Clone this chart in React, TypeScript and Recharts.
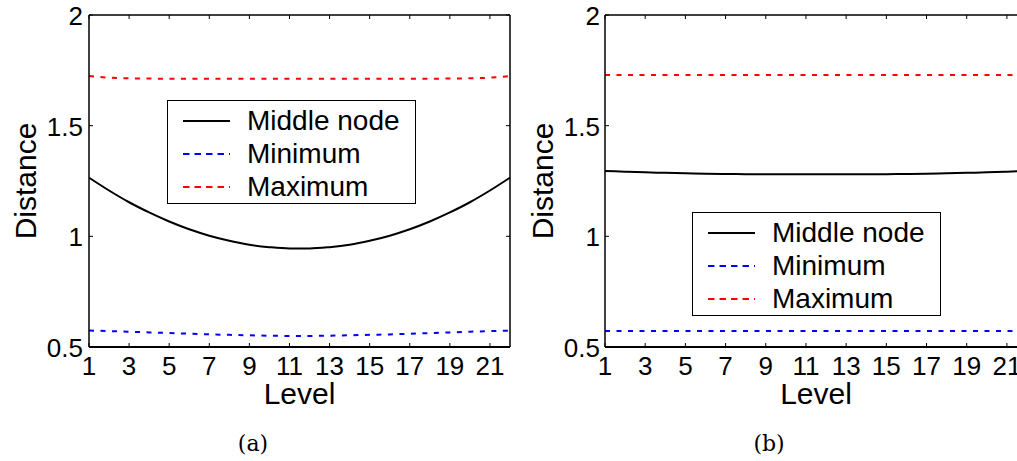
import React from 'react';
import { LineChart, Line, XAxis, YAxis, Legend } from 'recharts';

const levels = [1, 2, 3, 4, 5, 6, 7, 8, 9, 10, 11, 12, 13, 14, 15, 16, 17, 18, 19, 20, 21, 22];
const xTicks = [1, 3, 5, 7, 9, 11, 13, 15, 17, 19, 21];
const yTicks = [0.5, 1, 1.5, 2];

const middleA = [1.265, 1.207, 1.154, 1.108, 1.067, 1.032, 1.003, 0.98, 0.962, 0.951, 0.945, 0.945, 0.951, 0.962, 0.98, 1.003, 1.032, 1.067, 1.108, 1.154, 1.207, 1.265];
const minA = [0.574, 0.572, 0.569, 0.566, 0.563, 0.56, 0.557, 0.555, 0.553, 0.551, 0.55, 0.55, 0.551, 0.553, 0.555, 0.557, 0.56, 0.563, 0.566, 0.569, 0.572, 0.574];
const maxA = [1.724, 1.717, 1.714, 1.713, 1.712, 1.712, 1.712, 1.712, 1.712, 1.712, 1.712, 1.712, 1.712, 1.712, 1.712, 1.712, 1.712, 1.712, 1.713, 1.714, 1.717, 1.724];

const middleB = [1.295, 1.292, 1.289, 1.287, 1.285, 1.283, 1.282, 1.281, 1.28, 1.28, 1.28, 1.28, 1.28, 1.28, 1.281, 1.282, 1.283, 1.285, 1.287, 1.289, 1.292, 1.295];
const minB = [0.572, 0.572, 0.572, 0.572, 0.572, 0.572, 0.572, 0.572, 0.572, 0.572, 0.572, 0.572, 0.572, 0.572, 0.572, 0.572, 0.572, 0.572, 0.572, 0.572, 0.572, 0.572];
const maxB = [1.729, 1.729, 1.729, 1.729, 1.729, 1.729, 1.729, 1.729, 1.729, 1.729, 1.729, 1.729, 1.729, 1.729, 1.729, 1.729, 1.729, 1.729, 1.729, 1.729, 1.729, 1.729];

const seriesNames = ['Middle node', 'Minimum', 'Maximum'];
const seriesColors = ['#000000', '#0000ff', '#ff0000'];
const seriesDash = ['', '5 6.5', '5 6.5'];

const build = (mid: number[], mn: number[], mx: number[]) =>
  levels.map((l, i) => ({ level: l, middle: mid[i], min: mn[i], max: mx[i] }));

const dataA = build(middleA, minA, maxA);
const dataB = build(middleB, minB, maxB);

const FONT = 'Liberation Sans, Arial, Helvetica, sans-serif';
const TICK_FONT = 26;

const BottomTick = (props: any) => {
  const { x, y, payload } = props;
  return (
    <g>
      <line x1={x} x2={x} y1={y} y2={y - 4} stroke="#000" strokeWidth={1} />
      <text x={x} y={y + 28} textAnchor="middle" fontSize={TICK_FONT} fontFamily={FONT} fill="#000">
        {payload.value}
      </text>
    </g>
  );
};
const TopTick = (props: any) => {
  const { x, y } = props;
  return <line x1={x} x2={x} y1={y} y2={y + 4} stroke="#000" strokeWidth={1} />;
};
const makeLeftTick = (gap: number) => (props: any) => {
  const { x, y, payload } = props;
  return (
    <g>
      <line x1={x} x2={x + 4} y1={y} y2={y} stroke="#000" strokeWidth={1} />
      <text x={x - gap} y={y + 10} textAnchor="end" fontSize={TICK_FONT} fontFamily={FONT} fill="#000">
        {payload.value}
      </text>
    </g>
  );
};
const RightTick = (props: any) => {
  const { x, y } = props;
  return <line x1={x} x2={x - 4} y1={y} y2={y} stroke="#000" strokeWidth={1} />;
};

const LegendBox = ({ sampleLen, textGap }: { sampleLen: number; textGap: number }) => (
  <div
    style={{
      border: '1.5px solid #000',
      background: '#fff',
      boxSizing: 'border-box',
      width: '100%',
      height: '100%',
      paddingTop: 3,
      paddingLeft: 15,
    }}
  >
    {seriesNames.map((name, i) => (
      <div key={name} style={{ display: 'flex', alignItems: 'center', height: 33 }}>
        <svg width={sampleLen} height={6} style={{ display: 'block' }}>
          <line
            x1={0}
            x2={sampleLen}
            y1={3}
            y2={3}
            stroke={seriesColors[i]}
            strokeWidth={2}
            strokeDasharray={seriesDash[i] ? '6.5 5' : undefined}
          />
        </svg>
        <span
          style={{
            marginLeft: textGap,
            fontFamily: FONT,
            fontSize: 28,
            lineHeight: '33px',
            color: '#000',
            whiteSpace: 'nowrap',
          }}
        >
          {name}
        </span>
      </div>
    ))}
  </div>
);

type PanelProps = {
  data: any[];
  left: number;
  plotLeft: number;
  plotRight: number;
  tickGap: number;
  titleOffset: number;
  legendPos: { left: number; top: number };
};

const W = 520;
const H = 461;
const PLOT_TOP = 15;
const PLOT_BOTTOM = 347;

const Panel = ({ data, left, plotLeft, plotRight, tickGap, titleOffset, legendPos }: PanelProps) => (
  <div style={{ position: 'absolute', left, top: 0 }}>
    <LineChart
      width={W}
      height={H}
      data={data}
      margin={{ top: PLOT_TOP - 1, left: plotLeft - 1, right: W - plotRight - 1, bottom: H - PLOT_BOTTOM - 1 }}
    >
      <XAxis
        dataKey="level"
        type="number"
        domain={[1, 22]}
        ticks={xTicks}
        allowDataOverflow
        height={1}
        tickSize={0}
        tickMargin={0}
        tickLine={false}
        axisLine={{ stroke: '#000', strokeWidth: 2 }}
        tick={<BottomTick />}
        interval={0}
        label={{
          content: (p: any) => {
            const vb = p.viewBox;
            return (
              <text
                x={vb.x + vb.width / 2}
                y={PLOT_BOTTOM + 57}
                textAnchor="middle"
                fontSize={30}
                fontFamily={FONT}
                fill="#000"
              >
                Level
              </text>
            );
          },
        }}
      />
      <XAxis
        xAxisId="top"
        orientation="top"
        dataKey="level"
        type="number"
        domain={[1, 22]}
        ticks={xTicks}
        allowDataOverflow
        height={1}
        tickSize={0}
        tickMargin={0}
        tickLine={false}
        axisLine={{ stroke: '#000', strokeWidth: 1.5 }}
        tick={<TopTick />}
        interval={0}
      />
      <YAxis
        type="number"
        domain={[0.5, 2]}
        ticks={yTicks}
        allowDataOverflow
        width={1}
        tickSize={0}
        tickMargin={0}
        tickLine={false}
        axisLine={{ stroke: '#000', strokeWidth: 1.5 }}
        tick={makeLeftTick(tickGap)}
        interval={0}
        label={{
          content: (p: any) => {
            const vb = p.viewBox;
            const cx = plotLeft - titleOffset;
            const cy = vb.y + vb.height / 2;
            return (
              <text
                x={cx}
                y={cy}
                transform={`rotate(-90, ${cx}, ${cy})`}
                textAnchor="middle"
                fontSize={30}
                fontFamily={FONT}
                fill="#000"
              >
                Distance
              </text>
            );
          },
        }}
      />
      <YAxis
        yAxisId="right"
        orientation="right"
        type="number"
        domain={[0.5, 2]}
        ticks={yTicks}
        allowDataOverflow
        width={1}
        tickSize={0}
        tickMargin={0}
        tickLine={false}
        axisLine={{ stroke: '#000', strokeWidth: 1.5 }}
        tick={<RightTick />}
        interval={0}
      />
      <Line
        dataKey="max"
        name={seriesNames[2]}
        stroke={seriesColors[2]}
        strokeWidth={2}
        strokeDasharray={seriesDash[2]}
        dot={false}
        type="monotone"
        isAnimationActive={false}
      />
      <Line
        dataKey="min"
        name={seriesNames[1]}
        stroke={seriesColors[1]}
        strokeWidth={2}
        strokeDasharray={seriesDash[1]}
        dot={false}
        type="monotone"
        isAnimationActive={false}
      />
      <Line
        dataKey="middle"
        name={seriesNames[0]}
        stroke={seriesColors[0]}
        strokeWidth={2}
        dot={false}
        type="monotone"
        isAnimationActive={false}
      />
      <Legend
        layout="vertical"
        align="center"
        verticalAlign="middle"
        wrapperStyle={{ position: 'absolute', left: legendPos.left, top: legendPos.top, width: 249, height: 104 }}
        content={() => <LegendBox sampleLen={47} textGap={17} />}
      />
    </LineChart>
  </div>
);

export default function App() {
  return (
    <div
      style={{
        position: 'absolute',
        left: 0,
        top: 0,
        width: 1017,
        height: 461,
        overflow: 'hidden',
        background: '#fff',
      }}
    >
      <Panel
        data={dataA}
        left={0}
        plotLeft={89}
        plotRight={510}
        tickGap={6}
        titleOffset={53}
        legendPos={{ left: 167, top: 100 }}
      />
      <Panel
        data={dataB}
        left={520}
        plotLeft={85}
        plotRight={507}
        tickGap={5}
        titleOffset={52}
        legendPos={{ left: 172, top: 212 }}
      />
      <div
        style={{
          position: 'absolute',
          left: 203,
          width: 100,
          top: 431,
          textAlign: 'center',
          fontFamily: 'DejaVu Serif, serif',
          fontSize: 22,
          color: '#000',
        }}
      >
        (a)
      </div>
      <div
        style={{
          position: 'absolute',
          left: 719,
          width: 100,
          top: 431,
          textAlign: 'center',
          fontFamily: 'DejaVu Serif, serif',
          fontSize: 22,
          color: '#000',
        }}
      >
        (b)
      </div>
    </div>
  );
}
